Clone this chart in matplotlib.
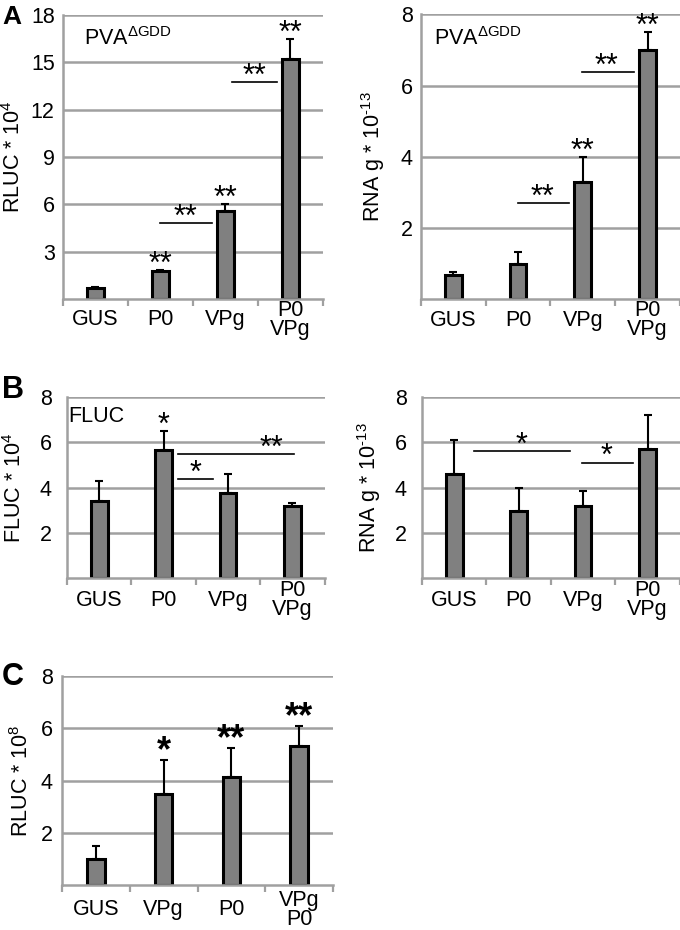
import matplotlib
matplotlib.use('Agg')
import matplotlib.pyplot as plt

plt.rcParams['font.family'] = ['Liberation Sans', 'DejaVu Sans']
plt.rcParams['mathtext.default'] = 'regular'

# panel A
cats_a = ['GUS', 'P0', 'VPg', 'P0\nVPg']
rluc_a = [0.7, 1.8, 5.6, 15.2]
rluc_a_err = [0.05, 0.04, 0.4, 1.25]
rna_a = [0.68, 1.0, 3.3, 7.0]
rna_a_err = [0.1, 0.33, 0.7, 0.5]

# panel B
cats_b = ['GUS', 'P0', 'VPg', 'P0\nVPg']
fluc_b = [3.4, 5.65, 3.75, 3.2]
fluc_b_err = [0.9, 0.85, 0.85, 0.1]
rna_b = [4.6, 2.95, 3.2, 5.7]
rna_b_err = [1.5, 1.05, 0.65, 1.5]

# panel C
cats_c = ['GUS', 'VPg', 'P0', 'VPg\nP0']
rluc_c = [1.0, 3.5, 4.12, 5.33]
rluc_c_err = [0.5, 1.28, 1.13, 0.75]

GRID = '#a0a0a0'
BAR = '#808080'
FS = 15.5


def panel(ax, cats, vals, errs, ymax, ystep, ylabel, ypad=6, xpad=15):
    x = range(len(cats))
    for t in range(ystep, ymax + 1, ystep):
        ax.axhline(t, color=GRID, lw=1.8, zorder=0)
    ax.bar(x, vals, width=0.26, color=BAR, edgecolor='black', linewidth=2.2,
           zorder=2)
    ax.errorbar(x, vals, yerr=[[0] * len(errs), errs], fmt='none',
                ecolor='black', elinewidth=1.5, capsize=3, capthick=1.5,
                zorder=3)
    ax.set_xlim(-0.5, len(cats) - 0.5)
    ax.set_ylim(0, ymax)
    ax.set_xticks(list(x))
    ax.set_xticklabels(cats, fontsize=FS, linespacing=0.85, va='center')
    ax.set_xticks([i + 0.5 for i in range(-1, len(cats))], minor=True)
    ax.tick_params(axis='x', which='major', length=0, pad=xpad)
    ax.tick_params(axis='x', which='minor', length=5, width=1.6, color=GRID,
                   direction='out')
    ax.set_yticks(list(range(ystep, ymax + 1, ystep)))
    ax.tick_params(axis='y', length=0, labelsize=FS, pad=ypad)
    for s in ['top', 'right']:
        ax.spines[s].set_visible(False)
    for s in ['left', 'bottom']:
        ax.spines[s].set_color(GRID)
        ax.spines[s].set_linewidth(1.8)
    ax.set_ylabel(ylabel, fontsize=FS)


def star(ax, x, y, s, fs=22, weight='normal', dy=-2):
    ax.annotate(s, (x, y), xytext=(0, dy), textcoords='offset points',
                ha='center', va='baseline', fontsize=fs, fontweight=weight,
                zorder=4)


def sig(ax, x0, x1, y, txt, tx):
    ax.plot([x0, x1], [y, y], color='black', lw=1.2, zorder=3)
    star(ax, tx, y, txt)


fig = plt.figure(figsize=(6.8, 9.3), dpi=100)

ax1 = fig.add_axes([0.0926, 0.6785, 0.382, 0.3054])
panel(ax1, cats_a, rluc_a, rluc_a_err, 18, 3, 'RLUC * 10$^4$')
ax1.text(-0.18, 16.1, 'PVA$^{ΔGDD}$', fontsize=FS, va='baseline')
sig(ax1, 1.0, 1.79, 4.8, '**', 1.38)
sig(ax1, 2.1, 2.79, 13.75, '**', 2.45)
for i in [1, 2, 3]:
    star(ax1, i, rluc_a[i] + rluc_a_err[i], '**')
ax1.yaxis.set_label_coords(-0.146, 0.5)

ax2 = fig.add_axes([0.619, 0.678, 0.381, 0.3065])
panel(ax2, cats_a, rna_a, rna_a_err, 8, 2, 'RNA g * 10$^{‐13}$')
ax2.text(-0.3, 7.13, 'PVA$^{ΔGDD}$', fontsize=FS, va='baseline')
sig(ax2, 1.0, 1.79, 2.7, '**', 1.37)
sig(ax2, 1.99, 2.79, 6.38, '**', 2.37)
for i in [2, 3]:
    star(ax2, i, rna_a[i] + rna_a_err[i], '**')
ax2.yaxis.set_label_coords(-0.13, 0.5)

ax3 = fig.add_axes([0.0985, 0.3785, 0.379, 0.1946])
panel(ax3, cats_b, fluc_b, fluc_b_err, 8, 2, 'FLUC * 10$^4$', ypad=11,
      xpad=16)
ax3.text(-0.48, 6.9, 'FLUC', fontsize=FS, va='baseline')
star(ax3, 1, fluc_b[1] + fluc_b_err[1], '*')
sig(ax3, 1.22, 1.76, 4.36, '*', 1.5)
sig(ax3, 1.22, 3.02, 5.46, '**', 2.68)
ax3.yaxis.set_label_coords(-0.16, 0.5)

ax4 = fig.add_axes([0.6206, 0.3785, 0.379, 0.1946])
panel(ax4, cats_b, rna_b, rna_b_err, 8, 2, 'RNA g * 10$^{‐13}$', ypad=11,
      xpad=16)
sig(ax4, 0.31, 1.79, 5.6, '*', 1.05)
sig(ax4, 1.98, 2.77, 5.1, '*', 2.37)
ax4.yaxis.set_label_coords(-0.15, 0.5)

ax5 = fig.add_axes([0.0912, 0.0484, 0.3985, 0.2247])
panel(ax5, cats_c, rluc_c, rluc_c_err, 8, 2, 'RLUC * 10$^8$', ypad=6.5,
      xpad=18)
for i, s in [(1, '*'), (2, '**'), (3, '**')]:
    star(ax5, i, rluc_c[i] + rluc_c_err[i], s, fs=26, weight='bold', dy=-1)
ax5.yaxis.set_label_coords(-0.107, 0.5)

fig.text(0.003, 0.974, 'A', fontsize=19, fontweight='bold', va='baseline')
fig.text(0.003, 0.572, 'B', fontsize=22, fontweight='bold', va='baseline')
fig.text(0.003, 0.2634, 'C', fontsize=22, fontweight='bold', va='baseline')

fig.savefig('out.png', dpi=100)
